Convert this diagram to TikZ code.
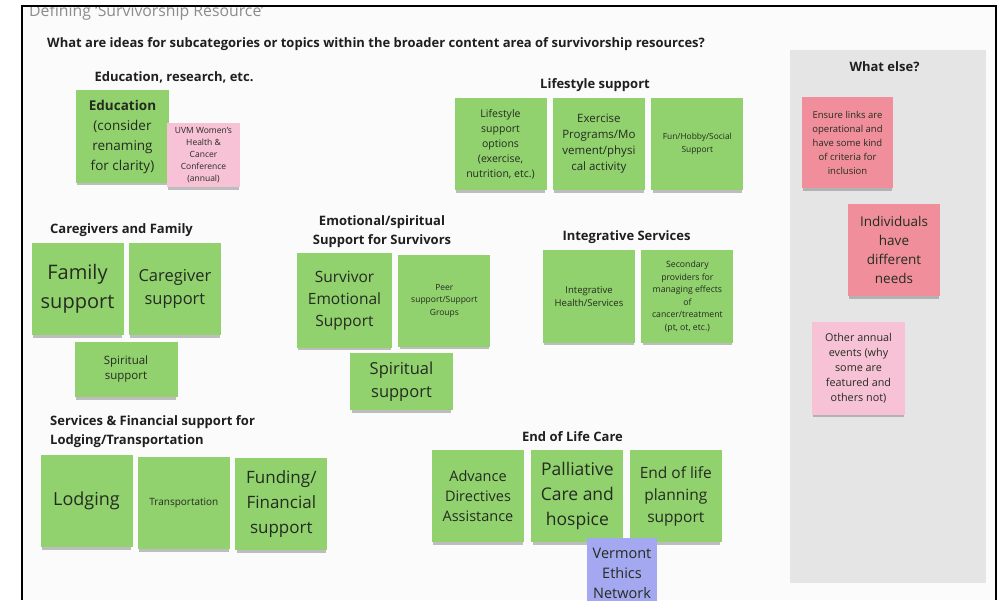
\documentclass[tikz,border=0pt]{standalone}
\usepackage{fontspec}
\setmainfont{Open Sans}
\usetikzlibrary{positioning,shadows}

\definecolor{boardbg}{RGB}{251,251,251}
\definecolor{panelgrey}{RGB}{229,229,229}
\definecolor{notegreen}{RGB}{145,209,110}
\definecolor{notepink}{RGB}{247,193,214}
\definecolor{notered}{RGB}{240,143,155}
\definecolor{noteviolet}{RGB}{163,168,240}
\definecolor{notetext}{RGB}{36,44,32}
\newcommand{\fsz}[2]{\fontsize{#1}{#2}\selectfont}

\begin{document}
\begin{tikzpicture}[
    x=1pt, y=-1pt,
    node distance=6pt,
    note/.style={fill=notegreen, text=notetext, align=center, inner sep=1pt,
        minimum width=92pt, minimum height=92pt,
        drop shadow={shadow xshift=0pt, shadow yshift=-4pt, shadow scale=0.97, opacity=0.5}},
    pinknote/.style={note, fill=notepink},
    rednote/.style={note, fill=notered},
    head/.style={font=\bfseries\fsz{13}{19}, text=black!88, inner sep=0pt}
]
\useasboundingbox (0,0) rectangle (1003,600);
\fill[white] (0,0) rectangle (1003,600);
\fill[boardbg] (22,6) rectangle (996,600);

% page title, cut by the frame
\begin{scope}
\clip (22,7) rectangle (996,600);
\node[anchor=base west, inner sep=0pt, text=black!45, font=\fsz{15.8}{18}] (title) at (29,16.5) {Defining ‘Survivorship Resource’};
\end{scope}
\draw[line width=2pt] (22,600) -- (22,6) -- (996,6) -- (996,600);

\node[head, anchor=west] (question) at (47,44) {What are ideas for subcategories or topics within the broader content area of survivorship resources?};

% what else panel
\node[fill=panelgrey, minimum width=196pt, minimum height=533pt, inner sep=0pt] (panel) at (888,316.5) {};
\node[head] (elsehead) at (884.5,67) {What else?};
\node[rednote, minimum width=91pt, minimum height=91pt, font=\fsz{9.5}{14}] (links) at (847.5,142.5) {Ensure links are\\operational and\\have some kind\\of criteria for\\inclusion};
\node[rednote, font=\fsz{13.5}{19}] (needs) at (894,250) {Individuals\\have\\different\\needs};
\node[pinknote, minimum width=93pt, minimum height=93pt, font=\fsz{10.8}{15}] (events) at (858.5,368.5) {Other annual\\events (why\\some are\\featured and\\others not)};

% education
\node[head] (eduhead) at (174,77) {Education, research, etc.};
\node[note, minimum width=93pt, minimum height=93pt, font=\fsz{13.5}{20}] (edu) at (122.5,136.5) {\textbf{Education}\\(consider\\renaming\\for clarity)};
\node[pinknote, minimum width=73pt, minimum height=64pt, font=\fsz{8.5}{12}] (uvm) at (203.5,155) {UVM Women's\\Health \&\\Cancer\\Conference\\(annual)};

% lifestyle
\node[head] (lifehead) at (595,85) {Lifestyle support};
\node[note, font=\fsz{10.5}{15}] (options) at (500.5,144) {Lifestyle\\support\\options\\(exercise,\\nutrition, etc.)};
\node[note, right=of options, font=\fsz{11.5}{16}] (exercise) {Exercise\\Programs/Mo\\vement/physi\\cal activity};
\node[note, right=of exercise, font=\fsz{8.4}{13}] (hobby) {Fun/Hobby/Social\\Support};

% caregivers
\node[head, anchor=west] (carehead) at (50,230) {Caregivers and Family};
\node[note, font=\fsz{20}{29}] (family) at (77.5,289) {Family\\support};
\node[note, right=5pt of family, font=\fsz{16.5}{23}] (caregiver) {Caregiver\\support};
\node[note, minimum width=103pt, minimum height=55pt, font=\fsz{11.5}{15}] (spirit) at (126,369.5) {Spiritual\\support};

% emotional
\node[head, align=center] (emohead) at (382,231.5) {Emotional/spiritual\\Support for Survivors};
\node[note, minimum width=95pt, minimum height=95pt, font=\fsz{15.5}{22}] (survivor) at (344.5,300.5) {Survivor\\Emotional\\Support};
\node[note, right=of survivor, font=\fsz{8.5}{12.5}] (peer) {Peer\\support/Support\\Groups};
\node[note, minimum width=103pt, minimum height=57pt, font=\fsz{16.5}{23}] (spirit2) at (401.5,381.5) {Spiritual\\support};

% integrative
\node[head] (inthead) at (626.5,237) {Integrative Services};
\node[note, minimum height=93pt, font=\fsz{9.5}{13}] (integ) at (589,296.5) {Integrative\\Health/Services};
\node[note, minimum height=93pt, right=of integ, font=\fsz{8.7}{12.5}] (secondary) {Secondary\\providers for\\managing effects\\of\\cancer/treatment\\(pt, ot, etc.)};

% services
\node[head, anchor=west, align=left] (servhead) at (50,431.5) {Services \& Financial support for\\Lodging/Transportation};
\node[note, font=\fsz{18}{25}] (lodging) at (86.5,501) {Lodging};
\node[note, right=5pt of lodging, font=\fsz{10}{14}, yshift=-2pt] (transport) {Transportation};
\node[note, right=5pt of transport, font=\fsz{17}{25}, yshift=-1pt] (funding) {Funding/\\Financial\\support};

% end of life
\node[head] (eolhead) at (572.5,437) {End of Life Care};
\node[note, font=\fsz{14.5}{20}] (advance) at (478,496) {Advance\\Directives\\Assistance};
\node[note, right=7pt of advance, font=\fsz{17.5}{25}] (palliative) {Palliative\\Care and\\hospice};
\node[note, right=of palliative, font=\fsz{15.5}{22}] (planning) {End of life\\planning\\support};
\node[note, fill=noteviolet, minimum width=70pt, anchor=north, font=\fsz{14.5}{20}, text depth=0pt] (ethics) at (622,538) {\\[-1pt]Vermont\\Ethics\\Network\\[20pt]};
\end{tikzpicture}
\end{document}
